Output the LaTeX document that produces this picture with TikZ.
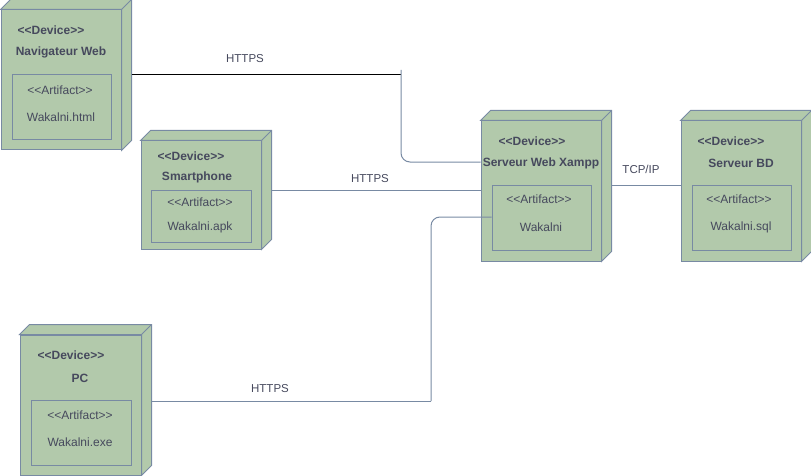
\documentclass[tikz,border=0pt]{standalone}
\usepackage{fontspec}
\setmainfont{Liberation Sans}
\usetikzlibrary{calc}
\definecolor{devfill}{HTML}{B2C9AB}
\definecolor{devstroke}{HTML}{788AA3}
\definecolor{txt}{HTML}{46495D}
\tikzset{
  devfront/.style={draw=devstroke, fill=devfill, line width=1pt, inner sep=0pt,
    minimum width=120pt},
  artbox/.style={draw=devstroke, fill=devfill, line width=1pt, inner sep=0pt},
  devface/.style={draw=devstroke, fill=devfill, line width=1pt, line join=miter},
  stereo/.style={text=txt, inner sep=0pt, font=\fontsize{12}{14}\selectfont\bfseries},
  devname/.style={text=txt, inner sep=0pt, font=\fontsize{12}{14}\selectfont\bfseries},
  arttxt/.style={text=txt, inner sep=0pt, font=\fontsize{12}{14}\selectfont},
  lbl/.style={text=txt, inner sep=0pt, font=\fontsize{11.5}{14}\selectfont},
  conn/.style={draw=devstroke, line width=1pt},
  connblack/.style={draw=black, line width=1pt},
}
% top and right faces of a 3D device box drawn around its front node
\newcommand\devfaces[1]{%
  \filldraw[devface] (#1.north west) -- ++(10,-10)
    -| ([shift={(10,-10)}]#1.south east) -- (#1.south east)
    -- (#1.north east) -- cycle;
  \draw[devface] (#1.north east) -- ++(10,-10);
}
\begin{document}
\begin{tikzpicture}[x=1pt,y=-1pt]
\useasboundingbox (0,0) rectangle (811,476);

% devices
\node[devfront, minimum height=140pt] (nav)   at (61,80)    {};
\node[devfront, minimum height=108pt] (smart) at (201,195)  {};
\node[devfront, minimum height=140pt] (web)   at (541,191)  {};
\node[devfront, minimum height=140pt] (bd)    at (741,191)  {};
\node[devfront, minimum height=140pt, minimum width=121pt] (pc) at (80.5,405) {};
\devfaces{nav}
\devfaces{smart}
\devfaces{web}
\devfaces{bd}
\devfaces{pc}

% artifacts
\node[artbox, minimum width=99pt,  minimum height=65pt] (navart)   at (61.5,107.5) {};
\node[artbox, minimum width=100pt, minimum height=52pt] (smartart) at (201,216)    {};
\node[artbox, minimum width=99pt,  minimum height=65pt] (webart)   at (541.5,217.5) {};
\node[artbox, minimum width=99pt,  minimum height=65pt] (bdart)    at (741.5,217.5) {};
\node[artbox, minimum width=100pt, minimum height=65pt] (pcart)    at (81,432.5)   {};

% Navigateur Web
\node[stereo]  (navst) at (51,30)  {<{}<Device>{}>};
\node[devname] (navnm) at (61,52)  {Navigateur Web};
\node[arttxt]  (navas) at (60,90)  {<{}<Artifact>{}>};
\node[arttxt]  (navan) at (61,117) {Wakalni.html};

% Smartphone
\node[stereo]  (smst) at (191,156) {<{}<Device>{}>};
\node[devname] (smnm) at (197,177) {Smartphone};
\node[arttxt]  (smas) at (200,202) {<{}<Artifact>{}>};
\node[arttxt]  (sman) at (200,227) {Wakalni.apk};

% Serveur Web Xampp
\node[stereo]  (wbst) at (532,141) {<{}<Device>{}>};
\node[devname] (wbnm) at (541,163) {Serveur Web Xampp};
\node[arttxt]  (wbas) at (539,199) {<{}<Artifact>{}>};
\node[arttxt]  (wban) at (541,227) {Wakalni};

% Serveur BD
\node[stereo]  (bdst) at (731,141) {<{}<Device>{}>};
\node[devname] (bdnm) at (741,163) {Serveur BD};
\node[arttxt]  (bdas) at (739,199) {<{}<Artifact>{}>};
\node[arttxt]  (bdan) at (741,227) {Wakalni.sql};

% PC
\node[stereo]  (pcst) at (71,355)  {<{}<Device>{}>};
\node[devname] (pcnm) at (80,378)  {PC};
\node[arttxt]  (pcas) at (80,415)  {<{}<Artifact>{}>};
\node[arttxt]  (pcan) at (80,442)  {Wakalni.exe};

% connectors
\coordinate (navend) at (401,75);
\coordinate (navdrop) at (401,70);
\draw[connblack] ([shift={(10,-5)}]nav.east) -- (navend);
\draw[conn, rounded corners=9pt] (navdrop) |- (web.west |- 0,162);

\draw[conn] ([shift={(10,-5)}]smart.east) -- (web.west |- 0,190);

\coordinate (pcturn) at (431,401);
\coordinate (pcup) at (431,217);
\draw[conn] ([shift={(10,-4)}]pc.east) -- (pcturn);
\draw[conn, rounded corners=9pt] (pcturn) -- (pcup) -- (pcup -| webart.west);

\draw[conn] ([shift={(10,-6)}]web.east) -- (bd.west |- 0,185);

% connector labels
\node[lbl] (l1) at (245,59)  {HTTPS};
\node[lbl] (l2) at (370,179) {HTTPS};
\node[lbl] (l3) at (270,389) {HTTPS};
\node[lbl] (l4) at (641,169) {TCP/IP};
\end{tikzpicture}
\end{document}
